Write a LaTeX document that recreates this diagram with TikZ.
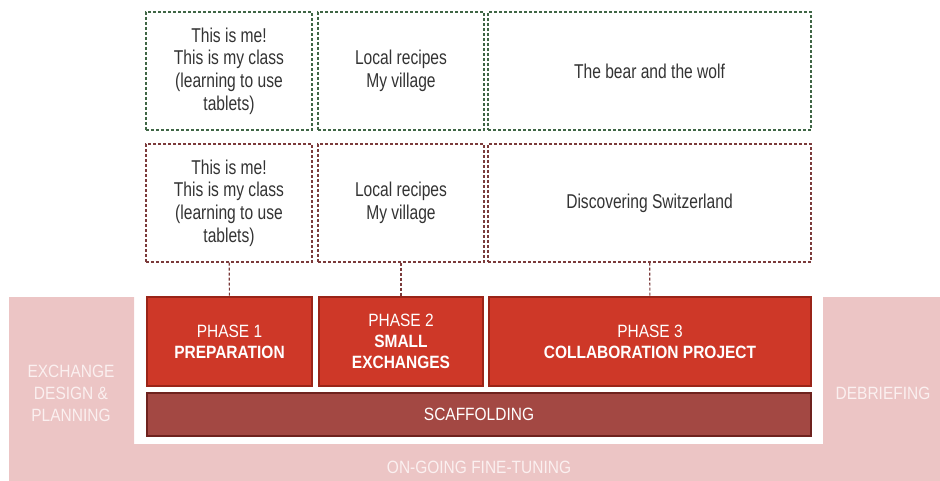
\documentclass[tikz,border=0pt]{standalone}
\usepackage{fontspec}
\setmainfont[FakeStretch=0.78]{Liberation Sans}
\newfontfamily\capsfont[FakeStretch=0.87]{Liberation Sans}
\usetikzlibrary{positioning}
\definecolor{pinkbg}{HTML}{ECC5C5}
\definecolor{pinktext}{HTML}{FBF0F0}
\definecolor{phasered}{HTML}{CE3828}
\definecolor{phaseline}{HTML}{9A2418}
\definecolor{scaffred}{HTML}{A34843}
\definecolor{scaffline}{HTML}{6E221E}
\definecolor{plangreen}{HTML}{3F6645}
\definecolor{planbrown}{HTML}{7B3A3A}
\definecolor{textgray}{HTML}{333333}

\begin{document}
\begin{tikzpicture}[x=1pt,y=-1pt]

\tikzset{plan/.style = {draw, dash pattern=on 3pt off 2pt, line width=1.1pt, text=textgray,
  align=center, inner sep=0pt, font=\fontsize{20}{22.7}\selectfont}}
\tikzset{planA/.style = {plan, plangreen, text=textgray}}
\tikzset{planB/.style = {plan, planbrown, text=textgray}}
\tikzset{phase/.style = {draw=phaseline, fill=phasered, line width=1.2pt, text=white,
  align=center, inner sep=0pt, minimum height=89pt, font=\capsfont\fontsize{17.8}{21}\selectfont}}
\tikzset{stage/.style = {text=pinktext, align=center, font=\capsfont\fontsize{17.8}{22}\selectfont}}
\tikzset{link/.style = {planbrown, dash pattern=on 3pt off 2pt, line width=1.1pt}}

\useasboundingbox (0,0) rectangle (940,481);

% background
\fill[pinkbg] (9,297) -- (134,297) -- (134,444) -- (823,444) -- (823,297)
  -- (940,297) -- (940,481) -- (9,481) -- cycle;
\node[stage] (design) at (71,393) {EXCHANGE\\DESIGN \&\\PLANNING};
\node[stage] (debrief) at (883,393) {DEBRIEFING};
\node[stage] (tuning) at (479,467) {ON-GOING FINE-TUNING};

% plans
\node[planA, minimum width=166pt, minimum height=118pt] (me1) at (229,71)
  {This is me!\\This is my class\\(learning to use\\tablets)};
\node[planA, minimum width=166pt, minimum height=118pt] (village1) at (401,71)
  {Local recipes\\My village};
\node[planA, minimum width=323pt, minimum height=118pt] (bear) at (649.5,71)
  {The bear and the wolf};
\node[planB, minimum width=166pt, minimum height=118pt] (me2) at (229,203)
  {This is me!\\This is my class\\(learning to use\\tablets)};
\node[planB, minimum width=166pt, minimum height=118pt] (village2) at (401,203)
  {Local recipes\\My village};
\node[planB, minimum width=323pt, minimum height=118pt] (swiss) at (649.5,203)
  {Discovering Switzerland};

% phases
\node[phase, minimum width=165pt] (p1) at (229.5,341.5) {PHASE 1\\\textbf{PREPARATION}};
\node[phase, minimum width=164pt] (p2) at (401,341.5) {PHASE 2\\\textbf{SMALL}\\\textbf{EXCHANGES}};
\node[phase, minimum width=322pt] (p3) at (650,341.5) {PHASE 3\\\textbf{COLLABORATION PROJECT}};
\node[phase, fill=scaffred, draw=scaffline, minimum width=664pt, minimum height=43pt] (scaff)
  at (479,414.5) {SCAFFOLDING};

% links
\draw[link] (me2) -- (p1);
\draw[link] (village2) -- (p2);
\draw[link] (swiss) -- (p3);

\end{tikzpicture}
\end{document}
